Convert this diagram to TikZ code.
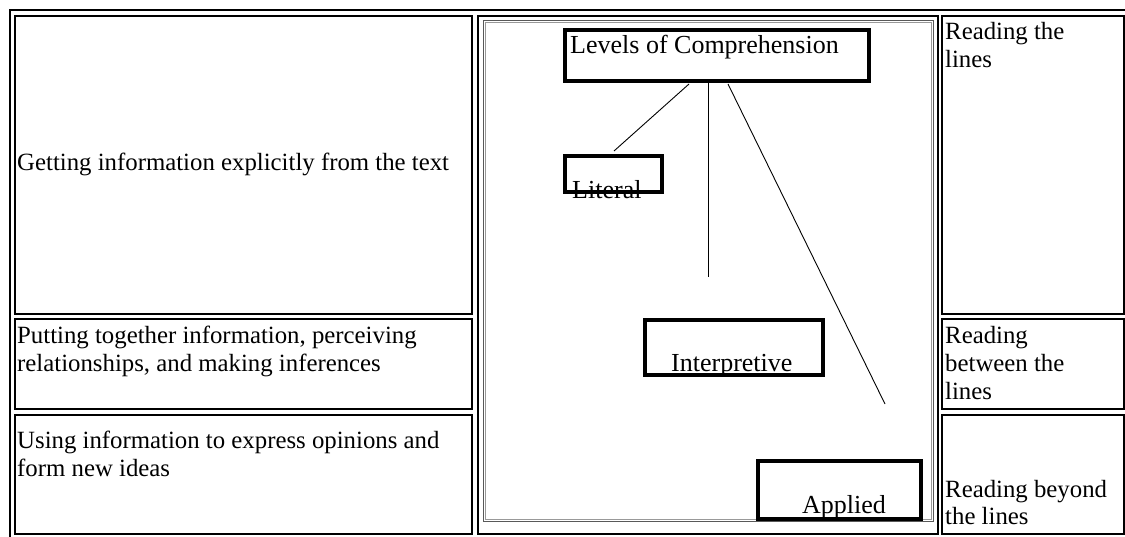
\documentclass[tikz,border=0pt]{standalone}
\usepackage{fontspec}
\setmainfont{Liberation Serif}
\begin{document}
\begin{tikzpicture}[x=1pt,y=-1pt,
  cell/.style={draw=black,line width=2pt},
  frameout/.style={draw=black!65,line width=1pt},
  framein/.style={draw=black!40,line width=1pt},
  celltext/.style={anchor=base west,inner sep=0pt,font=\fontsize{24.8}{28}\selectfont},
  dbox/.style={draw=black,line width=4pt,inner sep=0pt,rectangle},
  dtext/.style={anchor=base west,inner sep=0pt,font=\fontsize{26}{30}\selectfont},
  conn/.style={draw=black,line width=0.9pt}]
\useasboundingbox (0,0) rectangle (1125,536);
\clip (0,0) rectangle (1125,536);
\fill[white] (0,0) rectangle (1125,536);
% outer table border (right and bottom lie outside the picture)
\draw[cell] (10.3,545) -- (10.3,10.3) -- (1135,10.3);
% left column cells
\draw[cell] (15.3,15.7) rectangle (472,313.5);
\draw[cell] (15.3,318.5) rectangle (472,408.8);
\draw[cell] (15.3,414.5) rectangle (472,533.7);
% middle cell
\draw[cell] (478,15.7) rectangle (937.7,533.7);
% right column cells
\draw[cell] (941.7,15.7) rectangle (1123.6,313.5);
\draw[cell] (941.7,318.5) rectangle (1123.6,408.8);
\draw[cell] (941.7,414.5) rectangle (1123.6,533.7);
% picture frame inside the middle cell
\draw[frameout] (483.5,20.7) rectangle (933.7,521.5);
\draw[framein] (485.5,22.7) rectangle (931.5,519.5);
% left column texts
\node[celltext] (t1) at (17,170) {Getting information explicitly from the text};
\node[celltext] (t2a) at (17,343) {Putting together information, perceiving};
\node[celltext] (t2b) at (17,371) {relationships, and making inferences};
\node[celltext] (t3a) at (17,448) {Using information to express opinions and};
\node[celltext] (t3b) at (17,476) {form new ideas};
% right column texts
\node[celltext] (r1a) at (945,39) {Reading the};
\node[celltext] (r1b) at (945,67) {lines};
\node[celltext] (r2a) at (945,343) {Reading};
\node[celltext] (r2b) at (945,371) {between the};
\node[celltext] (r2c) at (945,399) {lines};
\node[celltext] (r3a) at (945,497) {Reading beyond};
\node[celltext] (r3b) at (945,524) {the lines};
% diagram texts
\node[dtext] (levt) at (570,53) {Levels of Comprehension};
\node[dtext] (litt) at (572,198) {Literal};
\node[dtext] (intt) at (671,371) {Interpretive};
\node[dtext] (appt) at (802,513) {Applied};
% diagram boxes
\node[dbox,minimum width=304pt,minimum height=51.5pt] (levels) at (717,55.25) {};
\node[dbox,minimum width=97pt,minimum height=36pt] (literal) at (613.5,174) {};
\node[dbox,minimum width=178pt,minimum height=55pt] (interp) at (734,347.5) {};
\node[dbox,minimum width=163pt,minimum height=58pt] (applied) at (839.5,490) {};
% connectors
\coordinate (c1s) at (689,84);
\coordinate (c1e) at (614,151);
\coordinate (c2s) at (708,83);
\coordinate (c2e) at (708,277);
\coordinate (c3s) at (728,84);
\coordinate (c3e) at (885,404);
\draw[conn] (c1s) -- (c1e);
\draw[conn] (c2s) -- (c2e);
\draw[conn] (c3s) -- (c3e);
\end{tikzpicture}
\end{document}
